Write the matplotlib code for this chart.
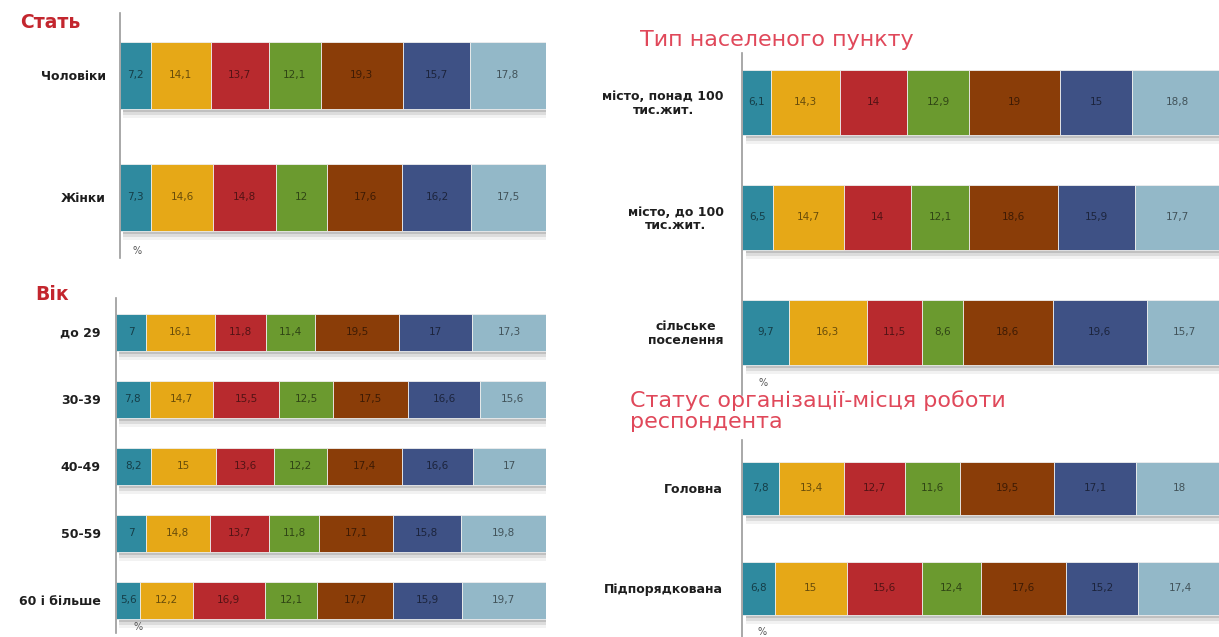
import matplotlib
matplotlib.use('Agg')
import matplotlib.pyplot as plt
import numpy as np
from matplotlib.colors import to_rgb

W, H = 1219, 637

# seven answer categories, same colours in every panel
segment_colors = ['#2f8a9f', '#e6a817', '#b82a2e', '#6b9a2f',
                  '#8a3d08', '#3e5185', '#93b8c8']

sex_labels = ['Чоловіки', 'Жінки']
sex_values = [
    [7.2, 14.1, 13.7, 12.1, 19.3, 15.7, 17.8],
    [7.3, 14.6, 14.8, 12.0, 17.6, 16.2, 17.5],
]

age_labels = ['до 29', '30-39', '40-49', '50-59', '60 і більше']
age_values = [
    [7.0, 16.1, 11.8, 11.4, 19.5, 17.0, 17.3],
    [7.8, 14.7, 15.5, 12.5, 17.5, 16.6, 15.6],
    [8.2, 15.0, 13.6, 12.2, 17.4, 16.6, 17.0],
    [7.0, 14.8, 13.7, 11.8, 17.1, 15.8, 19.8],
    [5.6, 12.2, 16.9, 12.1, 17.7, 15.9, 19.7],
]

settlement_labels = ['місто, понад 100\nтис.жит.', 'місто, до 100\nтис.жит.',
                     'сільське\nпоселення']
settlement_values = [
    [6.1, 14.3, 14.0, 12.9, 19.0, 15.0, 18.8],
    [6.5, 14.7, 14.0, 12.1, 18.6, 15.9, 17.7],
    [9.7, 16.3, 11.5, 8.6, 18.6, 19.6, 15.7],
]

status_labels = ['Головна', 'Підпорядкована']
status_values = [
    [7.8, 13.4, 12.7, 11.6, 19.5, 17.1, 18.0],
    [6.8, 15.0, 15.6, 12.4, 17.6, 15.2, 17.4],
]


def fx(x):
    return x / W


def fy(y):
    return 1 - y / H


def darker(c, k=0.45):
    r, g, b = to_rgb(c)
    return (r * k, g * k, b * k)


def fmt(v):
    return f'{v:g}'.replace('.', ',')


def stacked_panel(fig, labels, values, x0, x1, top, bottom, centers, bar_px, pad):
    ax = fig.add_axes([fx(x0), fy(bottom), (x1 - x0) / W, (bottom - top) / H])
    ax.patch.set_alpha(0)
    n = len(labels)
    step = centers[1] - centers[0]
    ypos = np.arange(n)
    h = bar_px / step
    data = np.array(values)
    totals = data.sum(axis=1)

    # soft grey shadow under each bar
    for off, a in [(3, 0.12), (6, 0.09), (9, 0.05)]:
        ax.barh(ypos + off / step, totals, left=0.8, height=h, color='black',
                alpha=a, linewidth=0, zorder=1)

    lefts = np.zeros(n)
    for j, col in enumerate(segment_colors):
        bars = ax.barh(ypos, data[:, j], left=lefts, height=h, color=col,
                       edgecolor='#eeeeee', linewidth=0.6, zorder=2)
        ax.bar_label(bars, labels=[fmt(v) for v in data[:, j]], label_type='center',
                     fontsize=7.5, color=darker(col))
        lefts += data[:, j]

    ax.set_xlim(0, 100)
    ax.set_ylim((n - 1) + (bottom - centers[-1]) / step, -(centers[0] - top) / step)
    ax.set_xticks([])
    ax.set_yticks(ypos, labels)
    ax.tick_params(axis='y', length=0, pad=pad)
    for t in ax.get_yticklabels():
        t.set_fontsize(9)
        t.set_fontweight('bold')
        t.set_color('#1e1e1e')
        t.set_multialignment('center')
        t.set_linespacing(1.05)
    for s in ['top', 'right', 'bottom']:
        ax.spines[s].set_visible(False)
    ax.spines['left'].set_color('#9a9a9a')
    ax.spines['left'].set_linewidth(1.2)
    return ax


fig = plt.figure(figsize=(W / 100, H / 100), dpi=100)
fig.patch.set_facecolor('white')

stacked_panel(fig, sex_labels, sex_values, 120, 546, 13, 258, [75, 197], 67, 10)
stacked_panel(fig, age_labels, age_values, 116, 546, 298, 633,
              [332, 399, 466, 533, 600], 37, 11)
stacked_panel(fig, settlement_labels, settlement_values, 742, 1222, 53, 395,
              [102, 217, 332], 65, 13)
stacked_panel(fig, status_labels, status_values, 742, 1222, 440, 637,
              [488, 588], 53, 14)

left_red = '#c3262e'
right_red = '#e0485a'
fig.text(fx(20), fy(23), 'Стать', fontsize=13.5, fontweight='bold', color=left_red,
         va='center', ha='left')
fig.text(fx(35), fy(295), 'Вік', fontsize=13.5, fontweight='bold', color=left_red,
         va='center', ha='left')
fig.text(fx(640), fy(40), 'Тип населеного пункту', fontsize=16, color=right_red,
         va='center', ha='left')
fig.text(fx(630), fy(411), 'Статус організації-місця роботи\nреспондента', fontsize=16,
         color=right_red, va='center', ha='left', linespacing=1.05)

for x, y in [(137, 251), (138, 627), (763, 383), (762, 632)]:
    fig.text(fx(x), fy(y), '%', fontsize=7, color='#555555', ha='center', va='center')

fig.savefig('out.png', dpi=100, facecolor='white')
